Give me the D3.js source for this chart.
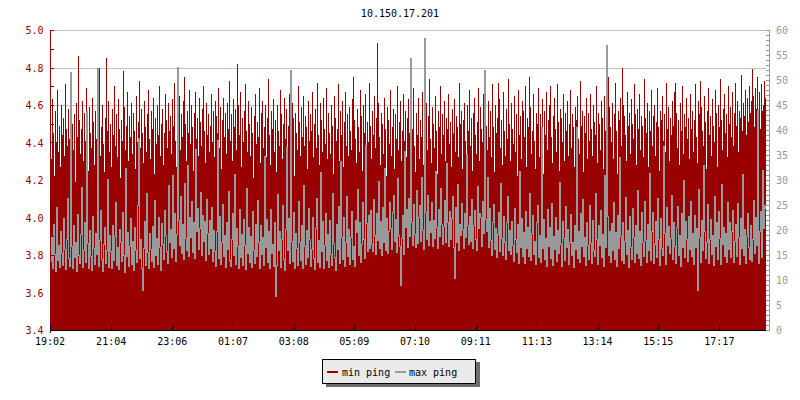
<!DOCTYPE html>
<html><head><meta charset="utf-8">
<script src="https://cdn.jsdelivr.net/npm/d3@7"></script>
<style>
body{margin:0;background:#fff}
svg{display:block}
text{font-family:"DejaVu Sans Mono",monospace}
</style>
</head><body>
<svg id="chart" width="800" height="400"></svg>
<script>
const chartTitle = "10.150.17.201";
const seriesNames = ["min ping", "max ping"];
const timeLabels = ["19:02","21:04","23:06","01:07","03:08","05:09","07:10","09:11","11:13","13:14","15:15","17:17"];
const timeLabelMinutes = [0,122,244,365,486,607,728,849,971,1092,1213,1335];
const totalMinutes = 1428;
const leftTicks = [3.4,3.6,3.8,4.0,4.2,4.4,4.6,4.8,5.0];
const leftMinorTicks = [3.5,3.7,3.9,4.1,4.3,4.5,4.7,4.9];
const rightTicks = [0,5,10,15,20,25,30,35,40,45,50,55,60];

// min ping (left axis), one value per 2-minute step
const minPing = [
4.52,4.31,4.63,4.45,4.22,4.57,4.40,4.68,4.35,4.49,4.27,4.60,4.44,4.53,4.33,4.71,4.47,4.38,4.58,4.42,
4.29,4.65,4.50,4.36,4.55,4.19,4.61,4.43,4.86,4.52,4.34,4.47,4.62,4.30,4.56,4.41,4.69,4.48,4.25,4.59,
4.45,4.37,4.64,4.51,4.28,4.57,4.42,4.66,4.54,4.80,4.33,4.48,4.60,4.39,4.24,4.53,4.85,4.46,4.62,4.35,
4.50,4.27,4.58,4.44,4.70,4.38,4.55,4.32,4.63,4.47,4.21,4.52,4.41,4.78,4.59,4.36,4.49,4.67,4.30,4.54,
4.43,4.61,4.34,4.56,4.46,4.26,4.65,4.40,4.51,4.73,4.37,4.58,4.45,4.29,4.62,4.48,4.35,4.55,4.68,4.42,
4.31,4.57,4.47,4.64,4.23,4.53,4.39,4.60,4.44,4.70,4.33,4.50,4.58,4.28,4.45,4.66,4.52,4.37,4.61,4.46,
4.54,4.34,4.63,4.49,4.72,4.41,4.27,4.59,4.47,4.65,4.36,4.55,4.43,4.62,4.75,4.50,4.30,4.57,4.45,4.68,
4.39,4.60,4.48,4.25,4.56,4.67,4.42,4.53,4.33,4.64,4.51,4.38,4.58,4.70,4.46,4.29,4.61,4.44,4.55,4.35,
4.49,4.66,4.40,4.57,4.32,4.62,4.54,4.45,4.69,4.37,4.59,4.26,4.52,4.64,4.43,4.56,4.34,4.61,4.47,4.73,
4.41,4.55,4.30,4.63,4.48,4.58,4.36,4.82,4.60,4.44,4.67,4.27,4.53,4.40,4.57,4.71,4.46,4.35,4.62,4.50,
4.33,4.59,4.45,4.21,4.54,4.66,4.39,4.51,4.43,4.69,4.29,4.56,4.62,4.37,4.48,4.60,4.32,4.53,4.74,4.44,
4.28,4.57,4.47,4.63,4.35,4.52,4.24,4.60,4.46,4.38,4.68,4.55,4.31,4.50,4.64,4.42,4.58,4.27,4.49,4.66,
4.40,4.30,4.61,4.53,4.22,4.56,4.45,4.36,4.70,4.51,4.33,4.59,4.43,4.65,4.38,4.54,4.48,4.26,4.62,4.41,
4.55,4.46,4.67,4.32,4.50,4.58,4.37,4.72,4.44,4.28,4.61,4.52,4.35,4.64,4.47,4.39,4.69,4.31,4.56,4.45,
4.34,4.60,4.49,4.23,4.65,4.53,4.41,4.47,4.71,4.30,4.57,4.44,4.62,4.27,4.51,4.67,4.38,4.55,4.33,4.59,
4.46,4.36,4.63,4.75,4.52,4.42,4.29,4.58,4.48,4.35,4.68,4.54,4.25,4.60,4.45,4.66,4.32,4.51,4.40,4.72,
4.49,4.31,4.57,4.44,4.65,4.37,4.53,4.93,4.61,4.43,4.28,4.56,4.50,4.34,4.64,4.47,4.22,4.59,4.52,4.39,
4.68,4.33,4.48,4.58,4.26,4.55,4.42,4.70,4.36,4.51,4.62,4.30,4.46,4.66,4.41,4.57,4.32,4.53,4.63,4.45,
4.35,4.60,4.47,4.69,4.38,4.24,4.56,4.44,4.64,4.31,4.52,4.43,4.67,4.28,4.58,4.49,4.61,4.36,4.54,4.74,
4.42,4.29,4.59,4.50,4.37,4.65,4.46,4.23,4.57,4.48,4.70,4.34,4.55,4.44,4.62,4.30,4.53,4.47,4.66,4.39,
4.51,4.27,4.58,4.45,4.63,4.35,4.54,4.48,4.32,4.72,4.50,4.57,4.26,4.52,4.61,4.41,4.33,4.60,4.46,4.68,
4.38,4.53,4.25,4.56,4.64,4.44,4.34,4.51,4.69,4.30,4.59,4.47,4.40,4.66,4.29,4.55,4.49,4.36,4.62,4.43,
4.57,4.32,4.71,4.48,4.24,4.60,4.45,4.53,4.72,4.63,4.37,4.52,4.28,4.67,4.46,4.33,4.58,4.42,4.74,4.50,
4.30,4.61,4.47,4.39,4.65,4.35,4.55,4.22,4.68,4.44,4.54,4.31,4.62,4.57,4.43,4.70,4.27,4.53,4.48,4.75,
4.59,4.34,4.46,4.66,4.41,4.26,4.56,4.50,4.69,4.32,4.55,4.45,4.63,4.23,4.57,4.44,4.67,4.36,4.52,4.60,
4.70,4.43,4.29,4.54,4.64,4.47,4.35,4.71,4.51,4.25,4.58,4.53,4.40,4.66,4.30,4.56,4.46,4.62,4.33,4.50,
4.68,4.37,4.55,4.48,4.27,4.59,4.52,4.65,4.42,4.34,4.73,4.49,4.57,4.24,4.54,4.45,4.64,4.31,4.56,4.41,
4.66,4.47,4.33,4.60,4.51,4.44,4.70,4.29,4.56,4.50,4.36,4.62,4.53,4.26,4.65,4.46,4.58,4.35,4.75,4.59,
4.48,4.40,4.61,4.31,4.55,4.72,4.46,4.23,4.57,4.52,4.64,4.38,4.80,4.60,4.54,4.44,4.30,4.67,4.49,4.56,
4.34,4.63,4.50,4.42,4.71,4.55,4.28,4.58,4.47,4.66,4.36,4.54,4.49,4.32,4.74,4.53,4.45,4.61,4.27,4.57,
4.46,4.68,4.38,4.54,4.60,4.33,4.51,4.69,4.48,4.25,4.57,4.52,4.65,4.41,4.55,4.35,4.72,4.47,4.59,4.30,
4.53,4.44,4.62,4.49,4.67,4.72,4.56,4.37,4.52,4.28,4.61,4.46,4.70,4.34,4.55,4.48,4.64,4.42,4.53,4.31,
4.66,4.47,4.57,4.35,4.52,4.71,4.43,4.29,4.62,4.55,4.73,4.59,4.46,4.38,4.65,4.51,4.26,4.57,4.69,4.44,
4.54,4.33,4.63,4.49,4.40,4.68,4.56,4.27,4.60,4.48,4.74,4.52,4.36,4.58,4.66,4.45,4.55,4.32,4.70,4.50,
4.59,4.43,4.67,4.38,4.56,4.72,4.49,4.62,4.35,4.57,4.53,4.76,4.46,4.61,4.54,4.68,4.44,4.64,4.51,4.70,
4.56,4.62,4.79,4.65,4.48,4.69,4.58,4.75,4.53,4.67,4.47,4.71,4.57,4.60,4.73,4.64
];

// max ping (right axis), one value per 2-minute step
const maxPing = [
13.8,18.6,12.4,21.3,15.2,11.9,24.7,14.1,17.0,12.6,19.8,15.5,13.0,22.4,16.3,12.2,18.1,26.5,14.4,12.9,
51.6,16.8,12.5,20.9,14.6,17.7,11.8,23.2,15.0,13.4,19.2,28.6,12.7,16.1,21.5,13.6,43.8,17.4,12.3,20.0,
14.9,12.1,22.8,16.5,13.2,19.5,15.3,52.4,12.8,18.0,24.1,14.2,11.9,17.3,20.7,13.5,16.0,30.2,12.6,19.1,
15.7,12.4,21.0,14.0,18.8,25.6,13.1,16.6,12.2,20.3,17.5,13.8,23.7,15.1,11.7,32.4,14.8,19.6,12.9,16.9,
22.5,13.3,17.8,12.0,20.6,15.9,13.7,24.9,38.5,14.5,18.3,12.5,8.0,16.4,21.8,13.0,27.3,15.6,12.3,19.4,
16.2,13.9,20.8,12.6,26.1,15.0,18.5,13.2,22.6,16.7,12.1,21.4,17.2,14.3,24.0,19.0,15.8,13.5,28.9,17.6,
20.2,14.7,31.0,16.4,23.5,13.8,19.3,52.6,22.0,17.1,26.8,15.4,21.2,14.2,29.5,18.4,16.0,33.1,14.9,22.7,
18.7,25.9,15.6,21.6,14.5,36.2,19.9,24.4,16.3,20.5,27.7,15.1,23.0,17.8,21.9,14.0,26.3,19.5,15.3,22.1,
16.5,24.6,13.9,20.1,15.7,12.8,19.7,38.0,14.4,22.9,13.2,17.6,25.3,14.8,19.0,12.6,21.7,16.2,27.9,14.1,
12.9,18.2,23.4,15.0,31.2,13.3,20.4,16.8,12.4,24.3,14.6,19.3,13.1,22.2,17.0,12.2,28.4,15.4,20.6,13.6,
18.9,12.7,23.9,16.1,13.4,21.2,14.9,26.0,17.5,12.3,20.9,15.2,18.6,13.0,34.7,16.6,22.3,13.7,19.8,12.5,
24.2,15.5,17.3,12.8,21.5,6.8,13.1,27.2,16.0,19.7,12.6,18.3,25.1,14.3,12.0,20.2,36.6,15.9,22.4,13.5,
52.0,17.9,13.8,23.6,12.5,19.4,16.4,13.0,25.8,17.7,14.1,21.1,12.4,29.0,16.8,13.3,20.0,14.7,24.5,18.2,
12.9,16.3,22.7,14.4,12.2,20.5,26.4,13.6,18.0,12.7,31.6,15.8,21.9,12.3,17.1,23.3,14.0,19.2,12.6,22.0,
15.3,13.1,27.5,17.4,14.6,12.1,21.3,16.2,24.8,13.4,33.9,18.7,14.2,22.6,12.8,17.5,26.7,14.9,20.3,13.2,
18.6,23.8,14.3,16.9,12.9,22.1,19.6,28.3,15.0,21.7,13.6,17.2,25.5,18.1,14.5,37.0,21.4,15.7,23.1,16.4,
24.0,17.3,15.8,26.2,19.1,15.2,23.4,18.0,29.8,16.5,21.9,15.0,24.7,17.6,32.5,16.0,22.5,15.4,19.9,25.6,
20.4,16.2,23.7,27.1,17.8,22.3,15.6,30.4,19.0,16.9,9.0,18.4,23.0,15.3,35.8,20.6,24.2,16.7,26.5,18.8,
54.4,21.5,17.0,25.2,19.3,16.6,28.0,17.4,22.7,24.9,17.9,30.6,20.1,16.3,58.4,23.6,18.2,27.0,17.1,21.8,
19.6,25.7,16.8,22.0,18.5,31.9,20.7,16.4,24.3,18.9,28.5,21.2,17.3,20.8,26.0,17.7,33.4,21.6,16.9,23.9,
18.3,22.4,26.8,16.7,10.4,24.6,17.5,29.1,16.1,21.3,19.0,25.4,20.2,16.5,23.5,18.6,35.3,20.9,17.2,22.8,
17.9,26.3,16.4,21.0,24.1,18.1,15.9,28.8,20.5,23.4,22.6,16.8,25.9,19.4,52.0,22.3,19.8,30.7,16.6,24.4,
18.0,15.1,21.7,25.3,16.3,20.4,14.6,19.2,23.6,15.7,29.4,18.5,15.0,22.8,17.6,14.2,21.5,26.9,16.0,20.1,
15.2,21.9,17.0,13.9,24.5,18.2,15.6,21.2,13.5,31.8,16.7,22.5,14.8,19.6,13.4,23.9,16.5,20.7,14.9,27.3,
14.0,19.5,23.0,15.3,17.9,13.2,21.6,25.0,14.7,19.1,13.6,40.5,16.4,22.2,14.3,18.4,12.9,24.2,16.9,20.6,
14.5,25.4,13.1,18.8,16.2,22.7,13.8,20.0,15.4,29.6,17.3,12.8,21.8,18.5,14.1,24.8,16.6,20.3,13.3,17.7,
23.2,15.0,17.6,12.7,21.1,16.3,40.6,14.4,19.7,13.6,23.5,16.8,26.2,14.9,18.6,13.0,21.7,17.1,14.2,25.0,
17.4,13.4,22.0,16.0,14.8,27.4,18.3,13.2,20.9,17.0,24.1,14.6,19.3,12.8,30.9,16.7,57.0,22.9,15.1,19.8,
13.7,21.4,15.9,25.7,14.3,19.6,12.9,23.0,16.4,34.6,18.9,14.0,21.5,13.5,17.8,26.6,15.2,20.1,12.7,22.8,
16.6,14.2,24.4,18.7,13.6,21.0,15.5,28.1,14.4,19.9,13.0,23.6,17.5,14.9,25.9,18.0,13.7,21.3,16.1,31.5,
14.1,19.8,23.7,13.4,17.3,21.9,14.6,26.5,18.2,13.1,22.4,16.5,15.0,36.8,19.5,13.3,24.6,17.0,20.8,15.4,
18.5,27.0,14.3,21.7,16.9,13.5,20.6,24.8,15.1,19.0,12.9,23.3,16.7,30.0,14.7,21.9,18.1,13.8,22.9,16.2,
25.9,14.9,19.5,13.2,23.1,16.6,20.4,8.0,28.2,18.7,13.6,22.1,16.0,33.0,19.9,14.5,17.6,25.2,13.4,18.3,
22.3,15.3,19.1,13.0,26.7,16.8,21.5,14.2,23.8,18.4,13.3,29.3,17.2,20.7,14.8,19.4,13.7,25.5,16.3,21.6,
14.6,19.7,24.0,13.6,17.8,21.2,14.9,25.4,18.6,13.2,22.5,16.4,31.3,15.0,20.3,13.5,18.9,23.4,16.7,14.3,
21.0,13.8,18.2,26.0,15.5,22.6,17.0,44.0,13.4,19.7,23.8,14.7,32.0,20.4,24.9,24.5
];

const RED = "#990000", GREY = "#999999", GRID = "#c4c4c4";
const plot = {left: 50, right: 766, top: 30, bottom: 330};

const svg = d3.select("#chart");
svg.append("rect").attr("width", 800).attr("height", 400).attr("fill", "#fff");

const xi = d3.scaleLinear().domain([0, minPing.length]).range([plot.left, plot.right]);
const xt = d3.scaleLinear().domain([0, totalMinutes]).range([plot.left, plot.right]);
const yL = d3.scaleLinear().domain([3.4, 5.0]).range([plot.bottom, plot.top]);
const yR = d3.scaleLinear().domain([0, 60]).range([plot.bottom, plot.top]);

// title
svg.append("text").attr("x", 400).attr("y", 17).attr("text-anchor", "middle")
  .attr("font-size", 10).attr("fill", "#000").text(chartTitle);

// grid
svg.append("g").selectAll("line").data(leftTicks).join("line")
  .attr("x1", plot.left).attr("x2", plot.right)
  .attr("y1", d => Math.round(yL(d)) + 0.5).attr("y2", d => Math.round(yL(d)) + 0.5)
  .attr("stroke", GRID).attr("stroke-width", 1);

svg.append("clipPath").attr("id", "pc").append("rect")
  .attr("x", plot.left).attr("y", plot.top).attr("width", plot.right - plot.left).attr("height", plot.bottom - plot.top);

const g = svg.append("g").attr("clip-path", "url(#pc)");

// min ping area
const minExt = minPing.concat([minPing[minPing.length - 1]]);
const area = d3.area().curve(d3.curveStepAfter)
  .x((d, i) => xi(i)).y0(yL(3.4)).y1(d => Math.round(yL(d)));
g.append("path").datum(minExt).attr("d", area).attr("fill", RED).attr("shape-rendering", "crispEdges");

// max ping line
const maxExt = maxPing.concat([maxPing[maxPing.length - 1]]);
const line = d3.line().curve(d3.curveStepAfter)
  .x((d, i) => xi(i) + 0.5).y(d => Math.round(yR(d)) + 0.5);
g.append("path").datum(maxExt).attr("d", line).attr("fill", "none")
  .attr("stroke", GREY).attr("stroke-width", 1).attr("shape-rendering", "crispEdges");

// left axis
const la = svg.append("g");
la.append("line").attr("x1", plot.left + 0.5).attr("x2", plot.left + 0.5)
  .attr("y1", plot.top).attr("y2", plot.bottom + 3).attr("stroke", RED);
la.selectAll("line.mj").data(leftTicks.concat(leftMinorTicks)).join("line").attr("class", "mj")
  .attr("x1", plot.left).attr("x2", plot.left + 4)
  .attr("y1", d => Math.round(yL(d)) + 0.5).attr("y2", d => Math.round(yL(d)) + 0.5)
  .attr("stroke", RED);
la.selectAll("text").data(leftTicks).join("text")
  .attr("x", 43.5).attr("y", d => yL(d) + 4).attr("text-anchor", "end")
  .attr("font-size", 10).attr("fill", RED).text(d => d.toFixed(1));

// right axis
const rightAll = d3.range(0, 61);
const ra = svg.append("g");
ra.append("line").attr("x1", plot.right + 3.5).attr("x2", plot.right + 3.5)
  .attr("y1", plot.top).attr("y2", plot.bottom).attr("stroke", GREY);
ra.selectAll("line.t").data(rightAll).join("line").attr("class", "t")
  .attr("x1", plot.right).attr("x2", plot.right + 4)
  .attr("y1", d => Math.round(yR(d)) + 0.5).attr("y2", d => Math.round(yR(d)) + 0.5)
  .attr("stroke", GREY);
ra.selectAll("text").data(rightTicks).join("text")
  .attr("x", 776).attr("y", d => yR(d) + 4)
  .attr("font-size", 10).attr("fill", GREY).text(d => d);

// bottom axis
const ba = svg.append("g");
ba.append("line").attr("x1", plot.left).attr("x2", plot.right)
  .attr("y1", plot.bottom + 0.5).attr("y2", plot.bottom + 0.5).attr("stroke", "#000");
ba.selectAll("line.t").data(timeLabelMinutes).join("line").attr("class", "t")
  .attr("x1", d => Math.round(xt(d)) + 0.5).attr("x2", d => Math.round(xt(d)) + 0.5)
  .attr("y1", plot.bottom - 5).attr("y2", plot.bottom + 1).attr("stroke", "#000");
ba.selectAll("text").data(timeLabelMinutes).join("text")
  .attr("x", d => xt(d)).attr("y", 345).attr("text-anchor", "middle")
  .attr("font-size", 10).attr("fill", "#000").text((d, i) => timeLabels[i]);

// legend
const lg = svg.append("g");
lg.append("rect").attr("x", 326).attr("y", 362).attr("width", 154).attr("height", 25).attr("fill", "#6e6e6e");
lg.append("rect").attr("x", 322.5).attr("y", 359.5).attr("width", 153).attr("height", 24)
  .attr("fill", "#eaeaea").attr("stroke", "#000");
const legendItems = [
  {name: seriesNames[0], color: RED, sx: 327, tx: 342},
  {name: seriesNames[1], color: GREY, sx: 395, tx: 409}
];
legendItems.forEach(it => {
  lg.append("line").attr("x1", it.sx).attr("x2", it.sx + 11).attr("y1", 372).attr("y2", 372)
    .attr("stroke", it.color).attr("stroke-width", 2);
  lg.append("text").attr("x", it.tx).attr("y", 375.5).attr("font-size", 10).attr("fill", "#000").text(it.name);
});
</script>
</body></html>
